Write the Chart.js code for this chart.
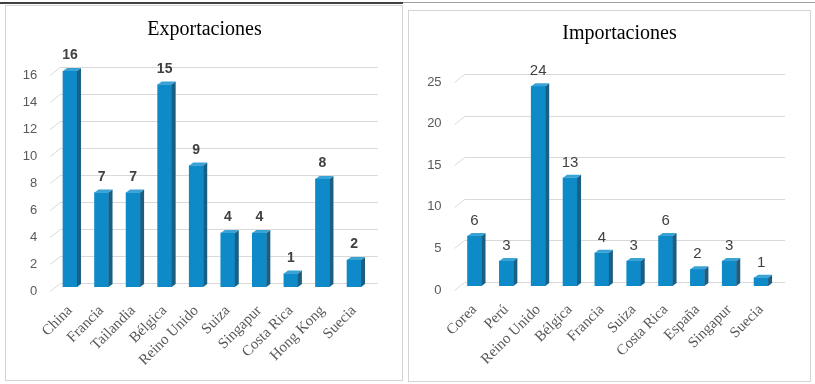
<!DOCTYPE html>
<html><head><meta charset="utf-8">
<script src="https://cdn.jsdelivr.net/npm/chart.js@4"></script>
<style>
body{margin:0;background:#fff;width:815px;height:384px;position:relative;overflow:hidden}
.topline1{position:absolute;left:0;top:2px;width:403px;height:2px;background:#404040}
.topline2{position:absolute;left:403px;top:2px;width:412px;height:1px;background:#a0a0a0}
.panel{position:absolute;border:1px solid #d4d4d4;background:#fff}
#p1{left:5px;top:5px;width:396px;height:374px}
#p2{left:408px;top:10px;width:401px;height:370px}
canvas{display:block}
</style></head><body>
<div class="topline1"></div><div class="topline2"></div>
<div class="panel" id="p1"><canvas id="c1" width="396" height="374"></canvas></div>
<div class="panel" id="p2"><canvas id="c2" width="401" height="370"></canvas></div>
<script>
const exportTitle = 'Exportaciones';
const exportCountries = ['China','Francia','Tailandia','Bélgica','Reino Unido','Suiza','Singapur','Costa Rica','Hong Kong','Suecia'];
const exportValues = [16, 7, 7, 15, 9, 4, 4, 1, 8, 2];
const exportTicks = {min: 0, max: 16, step: 2};

const importTitle = 'Importaciones';
const importCountries = ['Corea','Perú','Reino Unido','Bélgica','Francia','Suiza','Costa Rica','España','Singapur','Suecia'];
const importValues = [6, 3, 24, 13, 4, 3, 6, 2, 3, 1];
const importTicks = {min: 0, max: 25, step: 5};

const FRONT = '#0E8AC8', TOP = '#3AA3D6', SIDE = '#1B5E83';

const threeD = {
  id: 'threeD',
  beforeDatasetsDraw(chart) {
    const {ctx, chartArea: {left, right}, scales: {y}} = chart;
    ctx.save();
    ctx.strokeStyle = '#d9d9d9';
    ctx.lineWidth = 1;
    y.ticks.forEach(t => {
      const py = Math.round(y.getPixelForValue(t.value)) + 0.5;
      ctx.beginPath();
      ctx.moveTo(left - 4, py + 4);
      ctx.lineTo(left + 6, py - 4);
      ctx.lineTo(right + 8, py - 4);
      ctx.stroke();
    });
    // y tick labels, aligned with the front end of each 3D gridline
    ctx.fillStyle = '#595959';
    ctx.font = '13px "Liberation Sans", Arial, sans-serif';
    ctx.textAlign = 'right';
    ctx.textBaseline = 'middle';
    y.ticks.forEach(t => {
      const py = y.getPixelForValue(t.value);
      ctx.fillText(t.label, left - 17, py + 4);
    });
    ctx.restore();
  },
  afterDatasetsDraw(chart, args, opts) {
    const ctx = chart.ctx;
    const meta = chart.getDatasetMeta(0);
    const data = chart.data.datasets[0].data;
    ctx.save();
    meta.data.forEach((bar, i) => {
      const {x, y, base, width} = bar.getProps(['x', 'y', 'base', 'width'], true);
      const l = x - width / 2, r = x + width / 2;
      const dx = 4, dy = 3;
      ctx.fillStyle = SIDE;
      ctx.beginPath();
      ctx.moveTo(r, y); ctx.lineTo(r + dx, y - dy); ctx.lineTo(r + dx, base - dy); ctx.lineTo(r, base);
      ctx.closePath(); ctx.fill();
      ctx.fillStyle = TOP;
      ctx.beginPath();
      ctx.moveTo(l, y); ctx.lineTo(l + dx, y - dy); ctx.lineTo(r + dx, y - dy); ctx.lineTo(r, y);
      ctx.closePath(); ctx.fill();
      ctx.fillStyle = '#404040';
      ctx.font = opts.labelFont;
      ctx.textAlign = 'center';
      ctx.textBaseline = 'alphabetic';
      ctx.fillText(String(data[i]), x, y - opts.labelGap);
    });
    ctx.restore();
  }
};

const panelTitle = {
  id: 'panelTitle',
  afterDraw(chart, args, opts) {
    const ctx = chart.ctx;
    ctx.save();
    ctx.fillStyle = '#000';
    ctx.font = '20px "Liberation Serif", "Times New Roman", serif';
    ctx.textAlign = 'center';
    ctx.textBaseline = 'alphabetic';
    ctx.fillText(opts.text, opts.x, opts.y);
    ctx.restore();
  }
};

function makeChart(id, title, cats, vals, tk, geo) {
  new Chart(document.getElementById(id), {
    type: 'bar',
    data: {
      labels: cats,
      datasets: [{data: vals, backgroundColor: FRONT, barThickness: 14, borderWidth: 0}]
    },
    options: {
      responsive: false,
      animation: false,
      layout: {padding: {top: geo.top, left: 0, right: geo.right, bottom: 0}},
      plugins: {
        legend: {display: false},
        title: {display: false},
        tooltip: {enabled: false},
        threeD: {labelFont: geo.labelFont, labelGap: geo.labelGap},
        panelTitle: {text: title, x: geo.tx, y: geo.ty}
      },
      scales: {
        x: {
          grid: {display: false, drawTicks: false},
          border: {display: false},
          ticks: {
            minRotation: 45, maxRotation: 45, autoSkip: false, padding: geo.xpad,
            color: '#595959',
            font: {family: '"Liberation Serif", "Times New Roman", serif', size: 15}
          },
          afterFit(s) { s.height = geo.xh; s.paddingLeft = 0; s.paddingRight = 0; }
        },
        y: {
          min: tk.min, max: tk.max,
          grid: {display: false, drawTicks: false},
          border: {display: false},
          ticks: {
            display: false, stepSize: tk.step
          },
          afterFit(s) { s.width = geo.yw; s.paddingTop = 0; s.paddingBottom = 0; }
        }
      }
    },
    plugins: [threeD, panelTitle]
  });
}

makeChart('c1', exportTitle, exportCountries, exportValues, exportTicks,
  {top: 65, right: 32.2, xh: 93, yw: 48.2, tx: 198.5, ty: 29, xpad: 15,
   labelFont: 'bold 14px "Liberation Sans", Arial, sans-serif', labelGap: 12});
makeChart('c2', importTitle, importCountries, importValues, importTicks,
  {top: 67, right: 33, xh: 95, yw: 49.6, tx: 210.5, ty: 28, xpad: 15,
   labelFont: '15px "Liberation Sans", Arial, sans-serif', labelGap: 11});
</script>
</body></html>
